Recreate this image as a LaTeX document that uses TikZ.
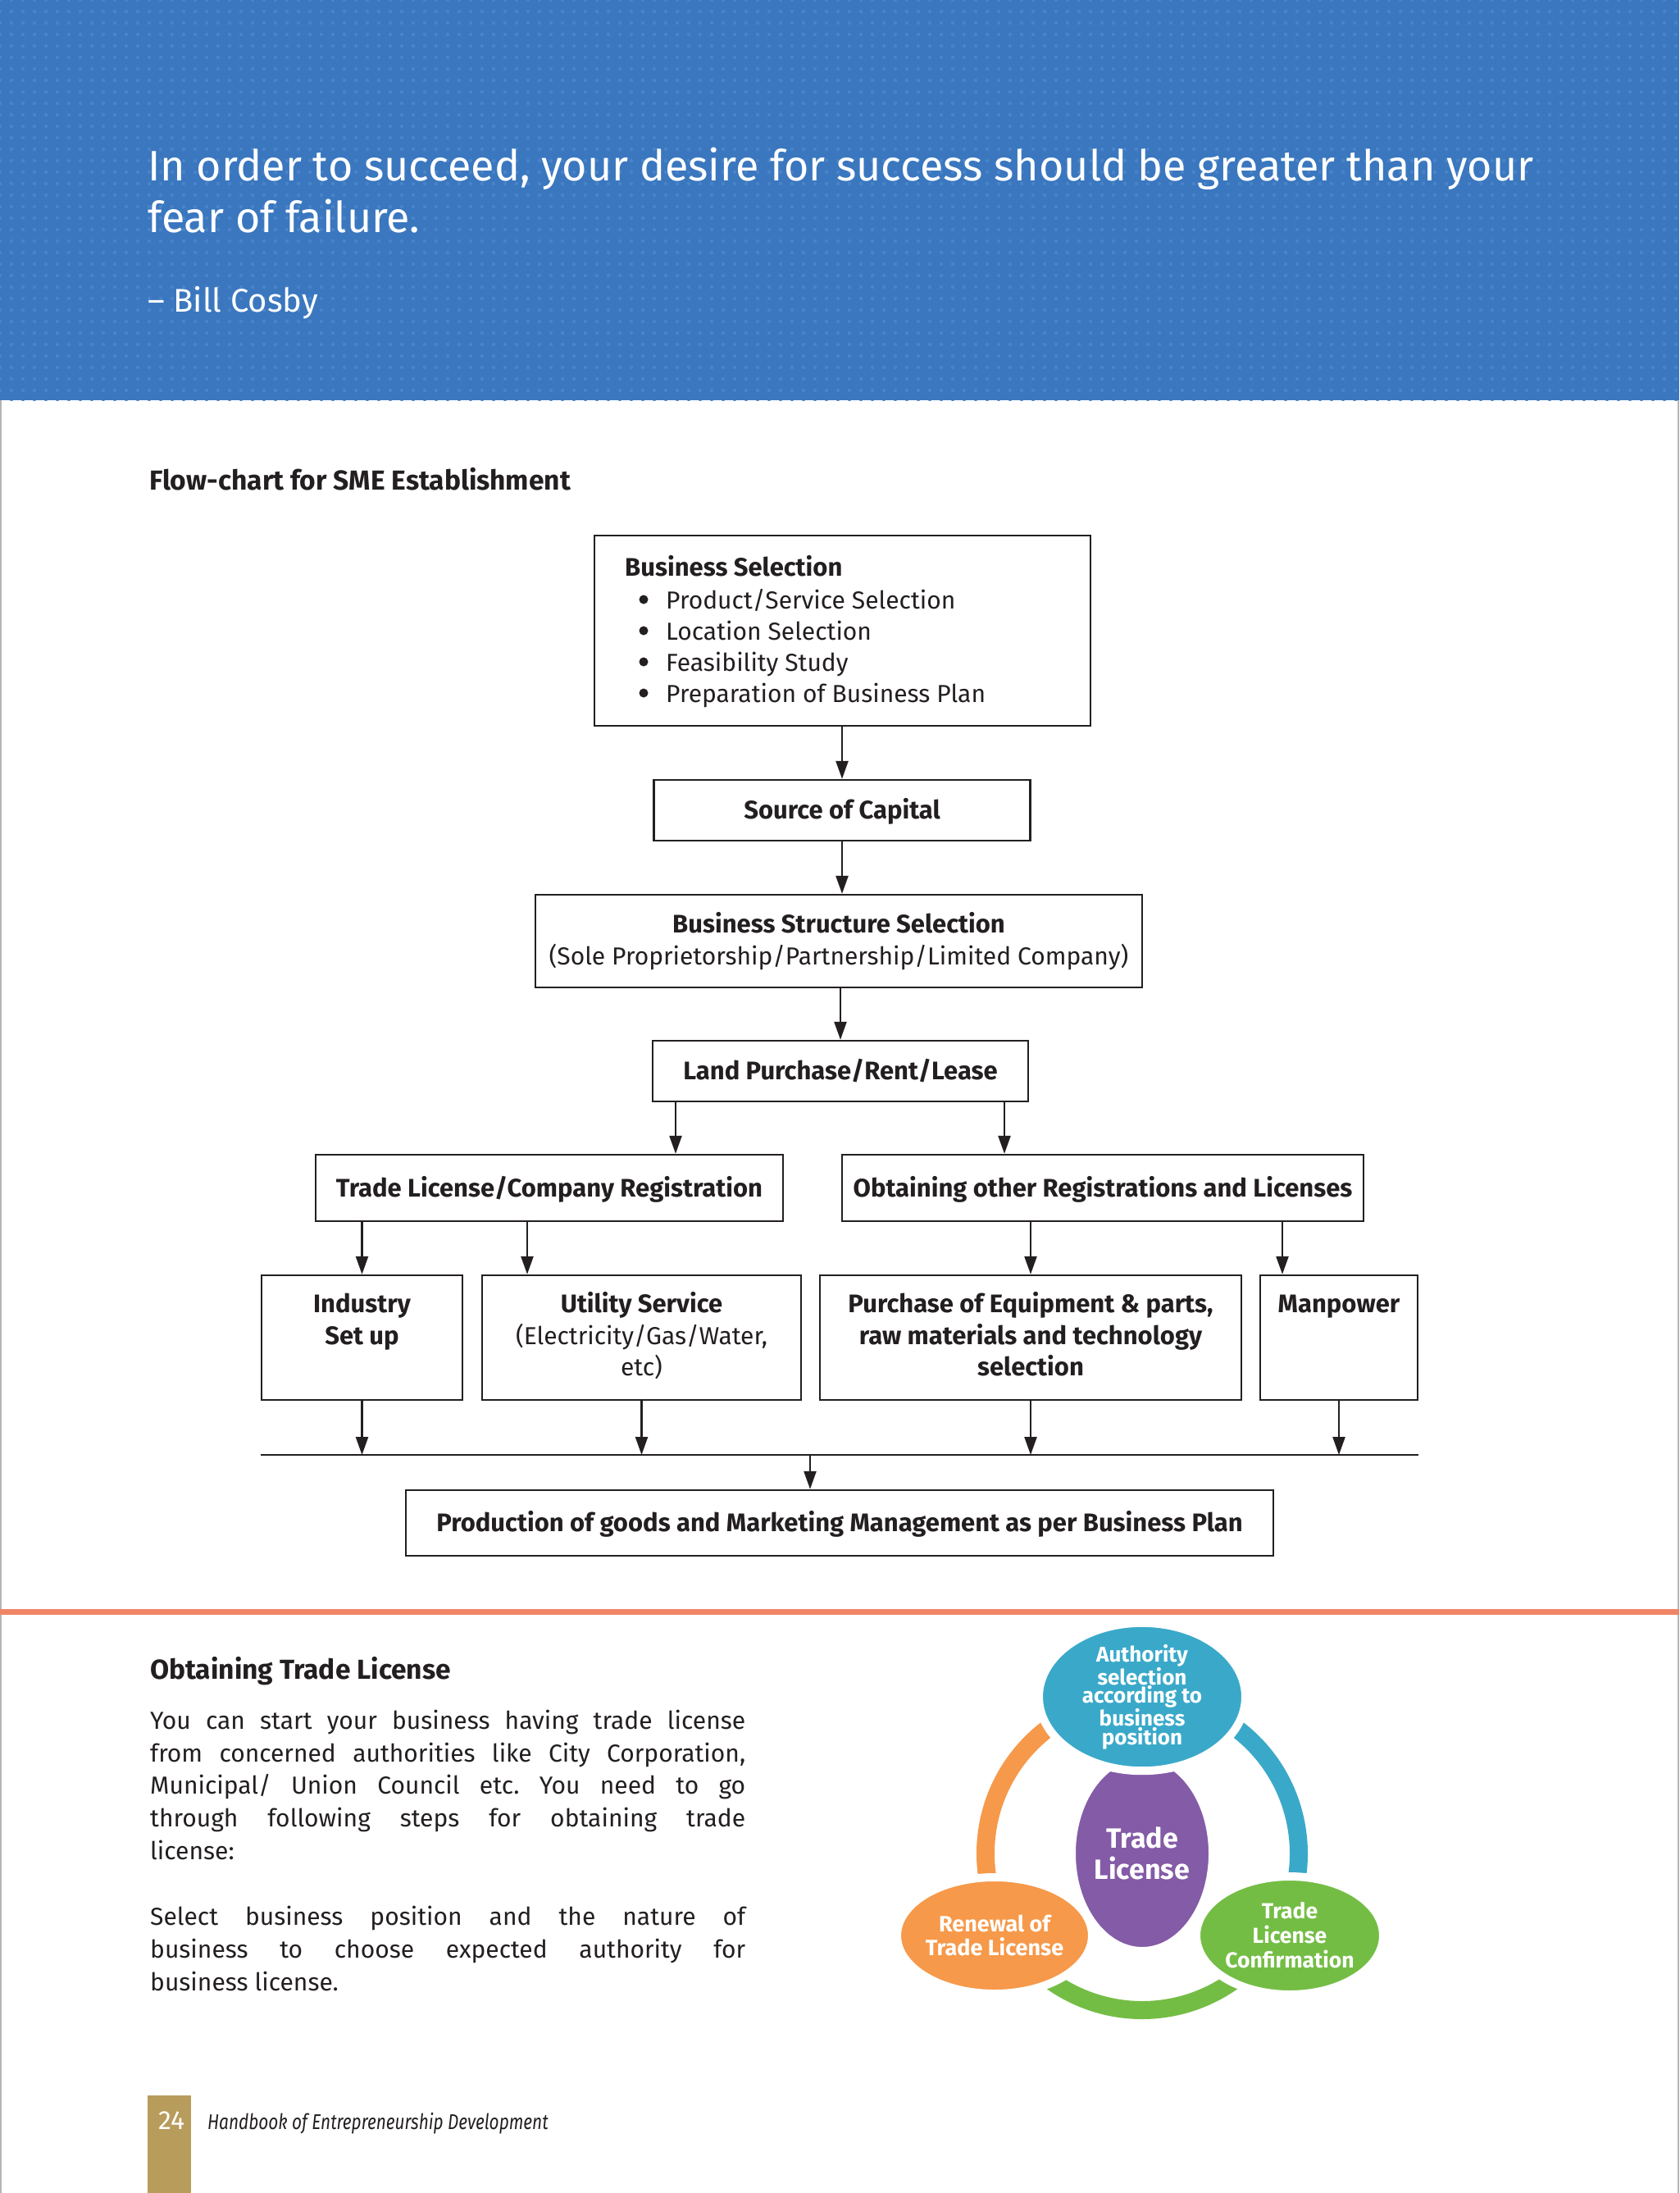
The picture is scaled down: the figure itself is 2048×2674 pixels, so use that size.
\documentclass[tikz,border=0pt]{standalone}
\usepackage{fontspec}
\setmainfont{Fira Sans}
\newfontfamily\lightfont{Fira Sans}
\usetikzlibrary{arrows.meta,shapes.geometric,patterns.meta}
\definecolor{ink}{HTML}{231F20}
\definecolor{bandblue}{HTML}{3A77BF}
\definecolor{dotblue}{HTML}{4A84C8}
\definecolor{rulecol}{HTML}{F08566}
\definecolor{cteal}{HTML}{3AA9C9}
\definecolor{cpurple}{HTML}{845BA6}
\definecolor{corange}{HTML}{F6994A}
\definecolor{cgreen}{HTML}{74BD45}
\definecolor{cgold}{HTML}{B89C5C}
\definecolor{edgegray}{HTML}{B4B4B4}
\frenchspacing
\begin{document}
\begin{tikzpicture}[x=1pt,y=-1pt,
  fbox/.style={draw=ink, line width=2.4pt, inner sep=0pt},
  btext/.style={font=\bfseries\fontsize{31}{36}\selectfont, text=ink, inner sep=0pt},
  ltext/.style={font=\lightfont\fontsize{30}{38}\selectfont, text=ink, inner sep=0pt},
  boxtext/.style={btext, text height=21pt, text depth=0pt},
  arr/.style={draw=ink, line width=2.4pt, -{Triangle[length=22pt,width=15pt]}},
  plain/.style={draw=ink, line width=2.4pt},
  quote/.style={font=\lightfont\fontsize{52}{63}\selectfont, text=white, inner sep=0pt, anchor=base west},
  para/.style={font=\lightfont\fontsize{30}{40}\selectfont, text=ink, inner sep=0pt, anchor=base west},
  head/.style={font=\bfseries\fontsize{33.5}{38}\selectfont, text=ink, inner sep=0pt, anchor=base west},
  ell/.style={ellipse, draw=white, line width=10pt, inner sep=0pt, text=white, align=center},
  ring/.style={line width=22pt}
]
\useasboundingbox (0,0) rectangle (2048,2674);
\fill[white] (0,0) rectangle (2048,2674);
% header band
\fill[bandblue] (0,0) rectangle (2048,488);
\fill[pattern={Dots[distance=14pt,radius=2.2pt]}, pattern color=dotblue] (0,0) rectangle (2048,488);
\draw[edgegray, line width=2pt] (1,488) -- (1,2674);
\draw[edgegray, line width=2pt] (2047,488) -- (2047,2674);

\node[quote] (q1) at (180,220) {In order to succeed, your desire for success should be greater than your};
\node[quote] (q2) at (180,283) {fear of failure.};
\node[quote, font=\lightfont\fontsize{40}{44}\selectfont] (q3) at (180,380) {– Bill Cosby};

% flow chart title
\node[head] (ftitle) at (182,597) {Flow-chart for SME Establishment};

% boxes
\node[fbox, minimum width=605pt, minimum height=232pt] (bs) at (1027.5,769) {};
\node[btext, anchor=base west] (bst) at (762,702) {Business Selection};
\foreach \yy/\tx [count=\i] in {742/Product\slash Service Selection, 780/Location Selection, 818/Feasibility Study, 856/Preparation of Business Plan}{
  \fill[ink] (785,\yy-11) circle (5.5pt);
  \node[ltext, anchor=base west] (bl\i) at (812,\yy) {\tx};
}

\node[fbox, boxtext, minimum width=459pt, minimum height=74pt] (soc) at (1027,988) {Source of Capital};

\node[fbox, minimum width=740pt, minimum height=113pt] (bss) at (1023,1147.5) {};
\node[btext, anchor=base] (bsst) at (1023,1137) {Business Structure Selection};
\node[ltext, anchor=base] (bssl) at (1023,1176) {(Sole Proprietorship/Partnership/Limited Company)};

\node[fbox, boxtext, minimum width=458pt, minimum height=74pt] (land) at (1025,1306) {Land Purchase/Rent/Lease};

\node[fbox, boxtext, minimum width=570pt, minimum height=81pt] (tl) at (670,1448.5) {Trade License/Company Registration};
\node[fbox, boxtext, minimum width=636pt, minimum height=81pt] (oo) at (1345,1448.5) {Obtaining other Registrations and Licenses};

\node[fbox, minimum width=245pt, minimum height=152pt] (ind) at (441.5,1631) {};
\node[btext, anchor=base] (ind1) at (441.5,1600) {Industry};
\node[btext, anchor=base] (ind2) at (441.5,1639) {Set up};

\node[fbox, minimum width=389pt, minimum height=152pt] (util) at (782.5,1631) {};
\node[btext, anchor=base] (ut1) at (782.5,1600) {Utility Service};
\node[ltext, anchor=base] (ut2) at (782.5,1639) {(Electricity/Gas/Water,};
\node[ltext, anchor=base] (ut3) at (782.5,1677) {etc)};

\node[fbox, minimum width=514pt, minimum height=152pt] (pur) at (1257,1631) {};
\node[btext, anchor=base] (pu1) at (1257,1600) {Purchase of Equipment \& parts,};
\node[btext, anchor=base] (pu2) at (1257,1639) {raw materials and technology};
\node[btext, anchor=base] (pu3) at (1257,1677) {selection};

\node[fbox, minimum width=192pt, minimum height=152pt] (man) at (1633,1631) {};
\node[btext, anchor=base] (ma1) at (1633,1600) {Manpower};

\node[fbox, boxtext, minimum width=1058pt, minimum height=80pt] (prod) at (1024,1857) {Production of goods and Marketing Management as per Business Plan};

% connectors
\coordinate (xa) at (824,0);
\coordinate (xb) at (1225,0);
\coordinate (xc) at (441.5,0);
\coordinate (xd) at (643,0);
\coordinate (xe) at (1257,0);
\coordinate (xf) at (1564,0);
\coordinate (xg) at (988,0);
\coordinate (bus) at (0,1774);

\draw[arr] (bs.south -| soc.north) -- (soc.north);
\draw[arr] (soc.south) -- (soc.south |- bss.north);
\draw[arr] (bss.south -| land.north) -- (land.north);
\draw[arr] (land.south -| xa) -- (tl.north -| xa);
\draw[arr] (land.south -| xb) -- (oo.north -| xb);
\draw[arr] (tl.south -| xc) -- (ind.north -| xc);
\draw[arr] (tl.south -| xd) -- (util.north -| xd);
\draw[arr] (oo.south -| xe) -- (pur.north -| xe);
\draw[arr] (oo.south -| xf) -- (man.north -| xf);
\draw[arr] (ind.south) -- (ind.south |- bus);
\draw[arr] (util.south) -- (util.south |- bus);
\draw[arr] (pur.south) -- (pur.south |- bus);
\draw[arr] (man.south) -- (man.south |- bus);
\draw[plain] (ind.south west |- bus) -- (man.south east |- bus);
\draw[arr] (bus -| xg) -- (prod.north -| xg);

% separator rule
\fill[rulecol] (0,1962) rectangle (2048,1969);

% bottom text
\node[head] (otl) at (183,2047) {Obtaining Trade License};
\node[para] (p1) at (183,2108) {\makebox[726pt][s]{You can start your business having trade license}};
\node[para] (p2) at (183,2148) {\makebox[726pt][s]{from concerned authorities like City Corporation,}};
\node[para] (p3) at (183,2187) {\makebox[726pt][s]{Municipal/ Union Council etc. You need to go}};
\node[para] (p4) at (183,2227) {\makebox[726pt][s]{through following steps for obtaining trade}};
\node[para] (p5) at (183,2267) {license:};
\node[para] (p6) at (183,2347) {\makebox[726pt][s]{Select business position and the nature of}};
\node[para] (p7) at (183,2387) {\makebox[726pt][s]{business to choose expected authority for}};
\node[para] (p8) at (183,2427) {business license.};

% cycle diagram
\coordinate (rc) at (1393,2260);
\draw[ring, corange] (rc) ++(270:191) arc[start angle=270, end angle=145, radius=191];
\draw[ring, cgreen] (rc) ++(145:191) arc[start angle=145, end angle=35, radius=191];
\draw[ring, cteal] (rc) ++(35:191) arc[start angle=35, end angle=-90, radius=191];

\node[ell, fill=cpurple, minimum width=172pt, minimum height=238pt, font=\bfseries\fontsize{34}{38}\selectfont] (tlc) at (1393,2260) {Trade\\License};
\node[ell, fill=cteal, minimum width=252pt, minimum height=142pt, font=\bfseries\fontsize{26}{22.5}\selectfont] (auth) at (1393,2069) {Authority\\selection\\according to\\business\\position};
\node[ell, fill=corange, minimum width=226pt, minimum height=142pt, font=\bfseries\fontsize{27}{29}\selectfont] (ren) at (1213,2360) {Renewal of\\Trade License};
\node[ell, fill=cgreen, minimum width=228pt, minimum height=144pt, font=\bfseries\fontsize{26.5}{30}\selectfont] (conf) at (1573,2360) {Trade\\License\\Confirmation};

% footer
\fill[cgold] (180,2555) rectangle (233,2674);
\node[font=\lightfont\fontsize{32}{36}\selectfont, text=white, inner sep=0pt, anchor=base west] (pg) at (193,2596) {24};
\node[font=\lightfont\itshape\fontsize{26}{30}\selectfont, text=ink, inner sep=0pt, anchor=base west] (hb) at (253,2596) {\scalebox{0.80}[1]{Handbook of Entrepreneurship Development}};
\end{tikzpicture}
\end{document}
